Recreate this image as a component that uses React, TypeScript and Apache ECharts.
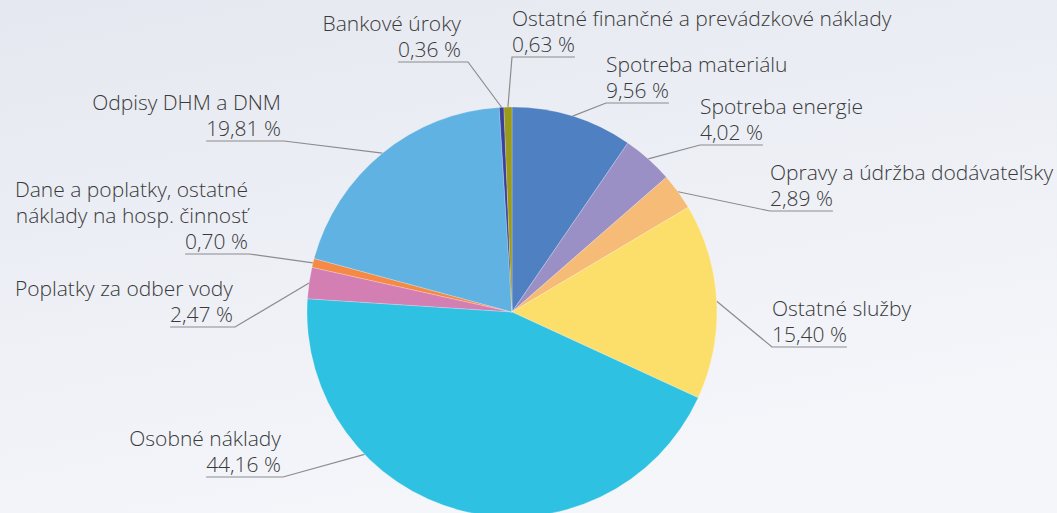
import React, { useEffect, useRef } from "react";
import * as echarts from "echarts";

const categories = [
  "Spotreba materiálu",
  "Spotreba energie",
  "Opravy a údržba dodávateľsky",
  "Ostatné služby",
  "Osobné náklady",
  "Poplatky za odber vody",
  "Dane a poplatky, ostatné\nnáklady na hosp. činnosť",
  "Odpisy DHM a DNM",
  "Bankové úroky",
  "Ostatné finančné a prevádzkové náklady",
];
const values = [9.56, 4.02, 2.89, 15.4, 44.16, 2.47, 0.7, 19.81, 0.36, 0.63];
const colors = [
  "#4f80c1",
  "#9b90c5",
  "#f6bb76",
  "#fbdf6a",
  "#2ec1e1",
  "#d37fb4",
  "#f58a44",
  "#60b2e2",
  "#3a3f9a",
  "#9a9a1c",
];

// label layout: underline inner end (x, y), gap between underline end and text,
// side, optional leader anchor angle (deg, clockwise from top)
const labelPos: { x: number; y: number; gap: number; side: "l" | "r"; angle?: number }[] = [
  { x: 606, y: 103, gap: 0, side: "r" },
  { x: 700, y: 145, gap: 0, side: "r" },
  { x: 770, y: 211, gap: 0, side: "r" },
  { x: 772, y: 347, gap: 0, side: "r" },
  { x: 283, y: 477, gap: 2, side: "l", angle: 226 },
  { x: 235, y: 327, gap: 2, side: "l" },
  { x: 249, y: 254, gap: 1, side: "l" },
  { x: 284, y: 141, gap: 3, side: "l" },
  { x: 468, y: 62, gap: 7, side: "l" },
  { x: 512, y: 57, gap: 0, side: "r" },
];

const CX = 512;
const CY = 312;
const R = 205;
const FONT_SIZE = 21;
const FONT_FAMILY = "'Open Sans', Lato, sans-serif";
const FONT_WEIGHT = 300;

const fmt = (v: number) => v.toFixed(2).replace(".", ",") + " %";

export default function App() {
  const ref = useRef<HTMLDivElement>(null);
  useEffect(() => {
    document.body.style.margin = "0";
    if (!ref.current) return;
    const chart = echarts.init(ref.current, null, { renderer: "svg" });
    const canvas = document.createElement("canvas");
    const ctx = canvas.getContext("2d")!;
    ctx.font = `${FONT_WEIGHT} ${FONT_SIZE}px ${FONT_FAMILY}`;
    const total = values.reduce((a, b) => a + b, 0);
    const cum: number[] = [];
    let acc = 0;
    values.forEach((v) => {
      cum.push(acc);
      acc += v;
    });

    chart.setOption({
      animation: false,
      backgroundColor: new echarts.graphic.LinearGradient(0, 0, 0.4, 1, [
        { offset: 0, color: "#e5e8f0" },
        { offset: 1, color: "#f4f6fa" },
      ]),
      series: [
        {
          type: "pie",
          center: [CX, CY],
          radius: R,
          startAngle: 90,
          clockwise: true,
          avoidLabelOverlap: false,
          itemStyle: { borderColor: "rgba(255,255,255,0.45)", borderWidth: 0.5 },
          label: {
            show: true,
            formatter: (p: any) => {
              const lines = String(p.name)
                .split("\n")
                .map((s) => `{n|${s}}`)
                .join("\n");
              return `${lines}\n{p|${fmt(p.value)}}`;
            },
            color: "#3a3a3a",
            fontFamily: FONT_FAMILY,
            fontWeight: FONT_WEIGHT,
            fontSize: FONT_SIZE,
            rich: {
              n: {
                fontFamily: FONT_FAMILY,
                fontWeight: FONT_WEIGHT,
                fontSize: FONT_SIZE,
                color: "#3a3a3a",
                lineHeight: 26,
              },
              p: {
                fontFamily: FONT_FAMILY,
                fontWeight: FONT_WEIGHT,
                fontSize: FONT_SIZE,
                color: "#3a3a3a",
                lineHeight: 26,
              },
            },
          },
          labelLine: {
            show: true,
            lineStyle: { color: "#8c8c8c", width: 1.2 },
          },
          labelLayout: (params: any) => {
            const i = params.dataIndex;
            const lp = labelPos[i];
            const mid = ((cum[i] + values[i] / 2) / total) * 360;
            const ang = ((lp.angle ?? mid) * Math.PI) / 180;
            const ax = CX + R * Math.sin(ang);
            const ay = CY - R * Math.cos(ang);
            const w = ctx.measureText(fmt(values[i])).width + lp.gap;
            const tx = lp.side === "r" ? lp.x + lp.gap : lp.x - lp.gap;
            const ex = lp.side === "r" ? lp.x + w : lp.x - w;
            return {
              x: tx,
              y: lp.y,
              align: lp.side === "r" ? "left" : "right",
              verticalAlign: "bottom",
              labelLinePoints: [
                [ax, ay],
                [lp.x, lp.y],
                [ex, lp.y],
              ],
            };
          },
          data: categories.map((name, i) => ({
            name,
            value: values[i],
            itemStyle: { color: colors[i] },
          })),
        },
      ],
    });
    return () => chart.dispose();
  }, []);
  return <div ref={ref} style={{ width: 1057, height: 513 }} />;
}
